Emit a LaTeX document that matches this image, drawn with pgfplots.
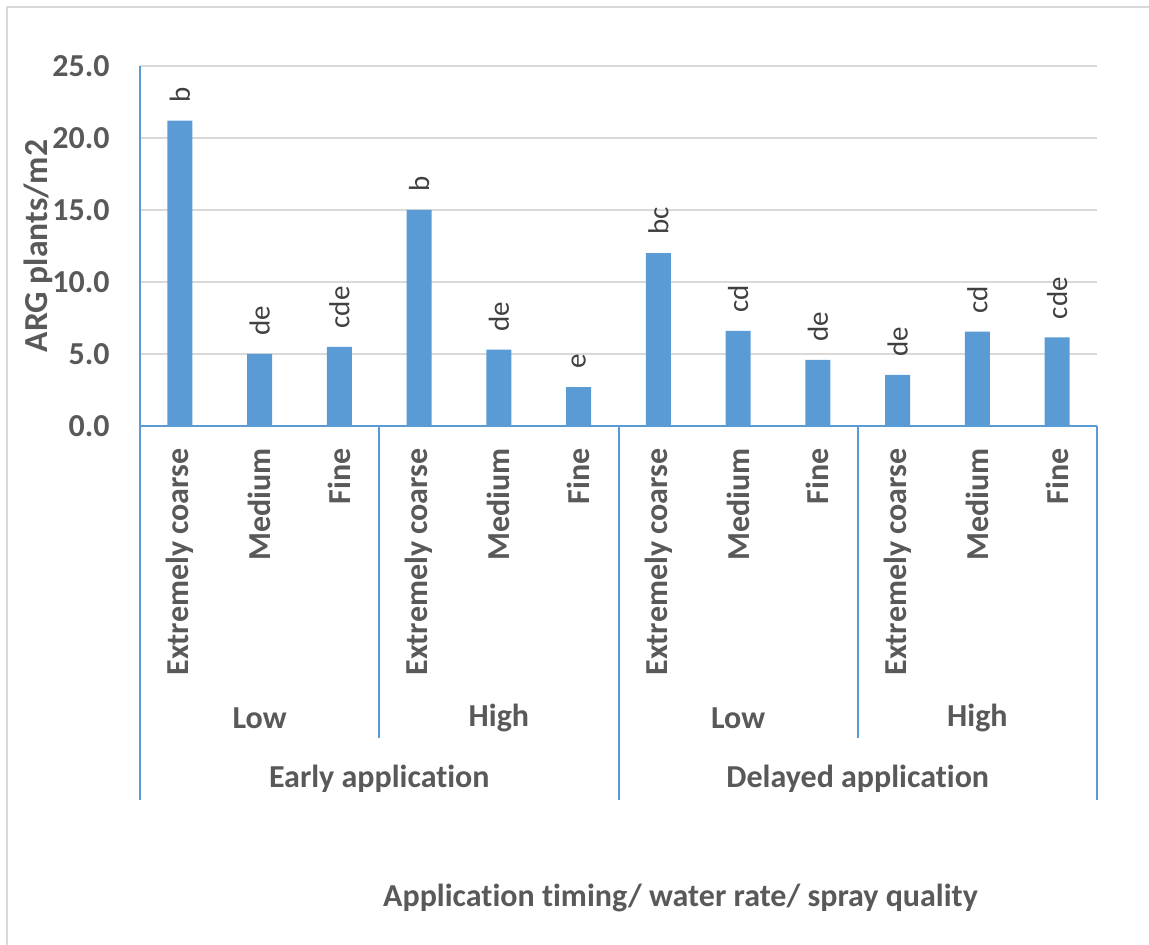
\documentclass[border=0pt]{standalone}
\usepackage{pgfplots}
\pgfplotsset{compat=1.18}
\usepackage{fontspec}
\setmainfont{Carlito}[Ligatures=NoCommon]
\definecolor{barblue}{HTML}{5B9BD5}
\definecolor{txt}{HTML}{595959}
\definecolor{lbl}{HTML}{404040}
\definecolor{gridc}{HTML}{D9D9D9}
\begin{document}
\begin{tikzpicture}
\path[use as bounding box] (0,0) rectangle (574.5pt,472.5pt);
\draw[gridc, line width=1pt] (3.7pt,0) -- (3.7pt,468.8pt) -- (574.5pt,468.8pt);
\begin{axis}[
  at={(70pt,259.5pt)}, anchor=south west,
  width=478.5pt, height=180pt, scale only axis,
  xmin=-0.5, xmax=11.5, ymin=0, ymax=25,
  ytick={0,5,10,15,20,25},
  ymajorgrids, grid style={gridc, line width=1pt},
  axis x line*=bottom, axis y line*=left,
  axis line style={barblue, line width=1pt, -},
  tick style={draw=none},
  xtick={0,...,11},
  xticklabels={Extremely coarse,Medium,Fine,Extremely coarse,Medium,Fine,Extremely coarse,Medium,Fine,Extremely coarse,Medium,Fine},
  xticklabel style={font=\bfseries\fontsize{16}{16}\selectfont, text=txt, rotate=90, anchor=east, inner sep=0pt, xshift=-11pt},
  yticklabel style={font=\bfseries\fontsize{16}{16}\selectfont, text=txt, anchor=east, inner sep=0pt, xshift=-15pt},
  /pgf/number format/assume math mode=true,
  yticklabel={\pgfmathprintnumber[fixed, fixed zerofill, precision=1]{\tick}},
  clip=false,
  nodes near coords, point meta=explicit symbolic,
  every node near coord/.append style={rotate=90, anchor=west, font=\fontsize{14.5}{14.5}\selectfont, text=lbl, inner sep=0pt, xshift=9pt},
]
\addplot[ybar, bar width=12.5pt, fill=barblue, draw=none] coordinates {
(0,21.2) [b]
(1,5.0) [de]
(2,5.5) [cde]
(3,15.0) [b]
(4,5.3) [de]
(5,2.7) [e]
(6,12.0) [bc]
(7,6.6) [cd]
(8,4.6) [de]
(9,3.55) [de]
(10,6.55) [cd]
(11,6.15) [cde]
};
\draw[barblue, line width=1pt] (axis cs:-0.5,0) -- ([yshift=-187pt]axis cs:-0.5,0);
\draw[barblue, line width=1pt] (axis cs:2.5,0) -- ([yshift=-156pt]axis cs:2.5,0);
\draw[barblue, line width=1pt] (axis cs:5.5,0) -- ([yshift=-187pt]axis cs:5.5,0);
\draw[barblue, line width=1pt] (axis cs:8.5,0) -- ([yshift=-156pt]axis cs:8.5,0);
\draw[barblue, line width=1pt] (axis cs:11.5,0) -- ([yshift=-187pt]axis cs:11.5,0);
\node[font=\bfseries\fontsize{16}{16}\selectfont, text=txt] at ([yshift=-146pt]axis cs:1,0) {Low};
\node[font=\bfseries\fontsize{16}{16}\selectfont, text=txt] at ([yshift=-146pt]axis cs:4,0) {High};
\node[font=\bfseries\fontsize{16}{16}\selectfont, text=txt] at ([yshift=-146pt]axis cs:7,0) {Low};
\node[font=\bfseries\fontsize{16}{16}\selectfont, text=txt] at ([yshift=-146pt]axis cs:10,0) {High};
\node[font=\bfseries\fontsize{16}{16}\selectfont, text=txt] at ([yshift=-176.5pt]axis cs:2.5,0) {Early application};
\node[font=\bfseries\fontsize{16}{16}\selectfont, text=txt] at ([yshift=-176.5pt]axis cs:8.5,0) {Delayed application};
\node[font=\bfseries\fontsize{16}{16}\selectfont, text=txt] at ([xshift=31pt,yshift=-236pt]rel axis cs:0.5,0) {Application timing/ water rate/ spray quality};
\node[font=\bfseries\fontsize{16.8}{16.8}\selectfont, text=txt, rotate=90] at ([xshift=-51pt]rel axis cs:0,0.5) {ARG plants/m2};
\end{axis}
\end{tikzpicture}
\end{document}
